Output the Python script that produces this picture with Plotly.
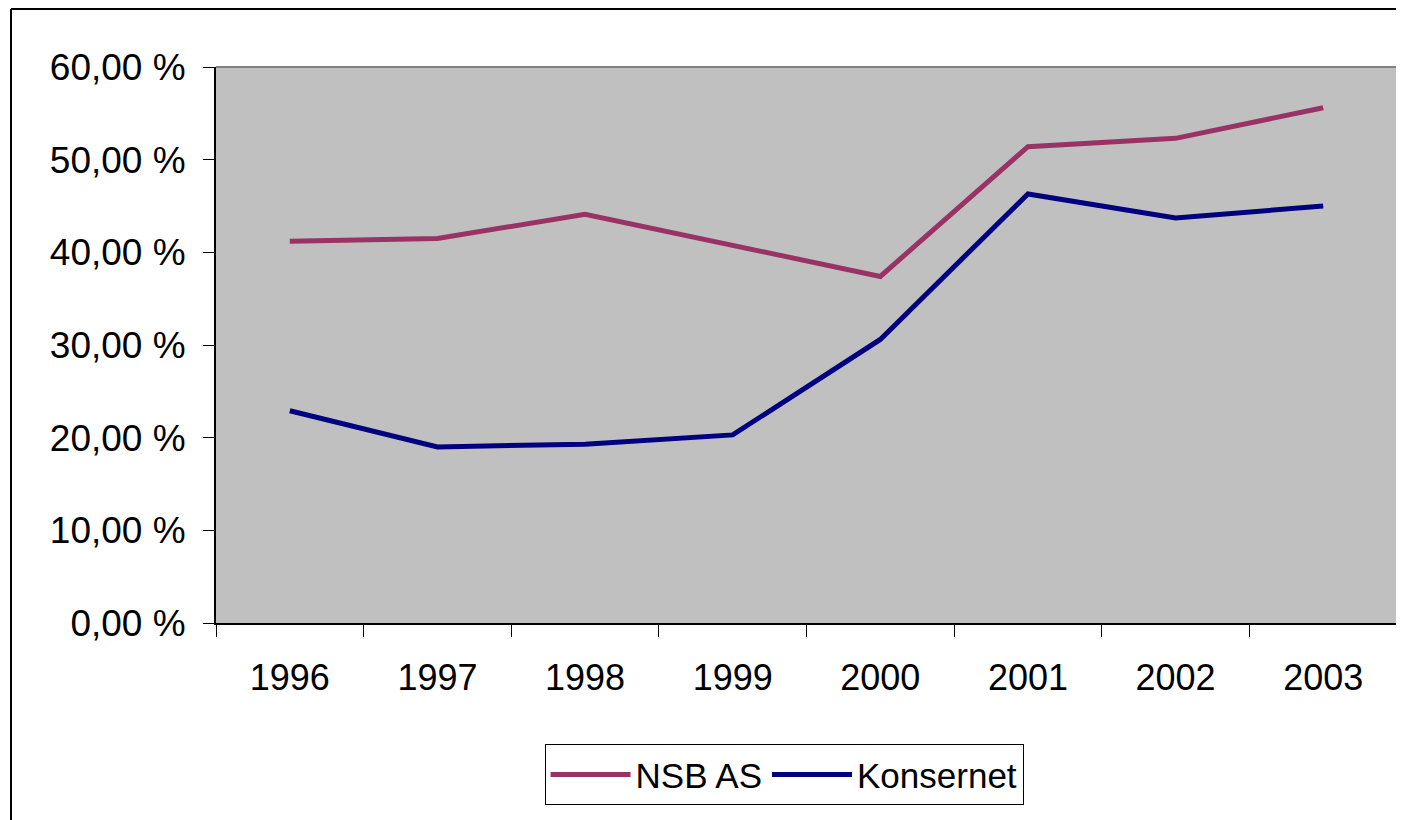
import plotly.graph_objects as go

years = ["1996", "1997", "1998", "1999", "2000", "2001", "2002", "2003"]
nsb_as = [41.2, 41.5, 44.1, 40.7, 37.4, 51.4, 52.3, 55.6]
konsernet = [22.9, 19.0, 19.3, 20.3, 30.6, 46.3, 43.7, 45.0]
y_ticks = [0, 10, 20, 30, 40, 50, 60]
y_tick_text = ["0,00 %", "10,00 %", "20,00 %", "30,00 %", "40,00 %", "50,00 %", "60,00 %"]

FONT = "Liberation Sans, Arial, sans-serif"

fig = go.Figure()
fig.add_trace(go.Scatter(x=years, y=nsb_as, mode="lines", name="NSB AS",
                         line=dict(color="#993366", width=5)))
fig.add_trace(go.Scatter(x=years, y=konsernet, mode="lines", name="Konsernet",
                         line=dict(color="#000080", width=5)))

PX = 1181.0
PY = 556.0
fx = lambda px: (px - 216) / PX
fy = lambda py: (623 - py) / PY

fig.update_layout(
    width=1396, height=812,
    margin=dict(l=208, r=7, t=59, b=197),
    paper_bgcolor="white",
    plot_bgcolor="#C0C0C0",
    font=dict(family=FONT, size=36, color="black"),
    showlegend=True,
    legend=dict(orientation="h", x=0.481, xanchor="center", y=-0.218, yanchor="top",
                bordercolor="black", borderwidth=1, bgcolor="white",
                font=dict(size=35, family=FONT), itemwidth=80),
    xaxis=dict(type="category", tickson="boundaries", ticks="outside", ticklen=12,
               tickcolor="black", tickwidth=1, showline=True, linecolor="black",
               linewidth=2, showgrid=False, zeroline=False, ticklabelstandoff=22,
               range=[-0.5, 7.5]),
    yaxis=dict(range=[0, 60], tickvals=y_ticks, ticktext=y_tick_text, ticks="outside",
               ticklen=11, tickcolor="black", tickwidth=1, showline=True,
               linecolor="black", linewidth=2, showgrid=False, zeroline=False,
               ticklabelstandoff=10, tickfont=dict(size=37)),
    shapes=[
        dict(type="line", xref="paper", yref="paper", x0=0, x1=1, y0=1, y1=1,
             line=dict(color="#808080", width=2)),
        dict(type="line", xref="paper", yref="paper", x0=1, x1=1, y0=0, y1=1,
             line=dict(color="#808080", width=2)),
        # outer chart frame: top and left edges only
        dict(type="line", xref="paper", yref="paper",
             x0=fx(11), x1=fx(1404), y0=fy(9), y1=fy(9),
             line=dict(color="black", width=2)),
        dict(type="line", xref="paper", yref="paper",
             x0=fx(11), x1=fx(11), y0=fy(9), y1=fy(820),
             line=dict(color="black", width=2)),
    ],
)

fig.write_html("out.html")
